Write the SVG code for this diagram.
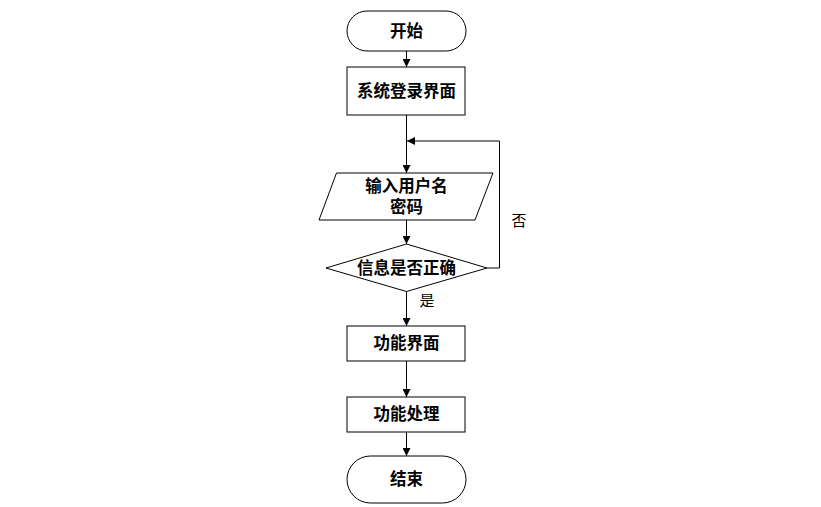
<svg xmlns="http://www.w3.org/2000/svg" width="821" height="507" viewBox="0 0 821 507">
<defs>
<marker id="ah" viewBox="0 0 10 10" refX="10" refY="5" markerWidth="8" markerHeight="8" markerUnits="userSpaceOnUse" orient="auto">
<path d="M0,0 L10,5 L0,10 z" fill="#000"/>
</marker>
<style>
.shape{fill:#fff;stroke:#000;stroke-width:1}
.t{font-family:"Liberation Sans","Noto Sans CJK SC",sans-serif;font-size:16.5px;font-weight:bold;text-anchor:middle;fill:#000}
.l{font-family:"Liberation Sans","Noto Sans CJK SC",sans-serif;font-size:15px;text-anchor:middle;fill:#000}
.c{fill:none;stroke:#000;stroke-width:1}
</style>
</defs>
<rect width="821" height="507" fill="#fff"/>
<g id="connectors">
<line class="c" x1="406.5" y1="51" x2="406.5" y2="67" marker-end="url(#ah)"/>
<line class="c" x1="406.5" y1="115" x2="406.5" y2="173" marker-end="url(#ah)"/>
<line class="c" x1="406.5" y1="220" x2="406.5" y2="244" marker-end="url(#ah)"/>
<polyline class="c" points="487,268 499.5,268 499.5,141 407,141" stroke="#555" marker-end="url(#ah)"/>
<line class="c" x1="406.5" y1="291.5" x2="406.5" y2="326" marker-end="url(#ah)"/>
<line class="c" x1="406.5" y1="361" x2="406.5" y2="397" marker-end="url(#ah)"/>
<line class="c" x1="406.5" y1="432" x2="406.5" y2="456" marker-end="url(#ah)"/>
<text class="l" x="519" y="226">否</text>
<text class="l" x="427" y="306">是</text>
</g>
<g id="start">
<rect class="shape" x="347" y="11" width="119" height="40" rx="20" ry="20"/>
<text class="t" x="406.5" y="37">开始</text>
</g>
<g id="login">
<rect class="shape" x="347" y="67" width="118" height="48"/>
<text class="t" x="406.5" y="97">系统登录界面</text>
</g>
<g id="input">
<polygon class="shape" points="336.5,173 493,173 475,220 319,220"/>
<text class="t" x="406.5" y="192">输入用户名</text>
<text class="t" x="406.5" y="213">密码</text>
</g>
<g id="check">
<polygon class="shape" points="406.5,244 487,268 406.5,291.5 326,268"/>
<text class="t" x="406.5" y="274">信息是否正确</text>
</g>
<g id="func">
<rect class="shape" x="347" y="326" width="118" height="35"/>
<text class="t" x="406.5" y="349">功能界面</text>
</g>
<g id="process">
<rect class="shape" x="347" y="397" width="118" height="35"/>
<text class="t" x="406.5" y="420">功能处理</text>
</g>
<g id="end">
<rect class="shape" x="347" y="456" width="119" height="47" rx="23.5" ry="23.5"/>
<text class="t" x="406.5" y="485">结束</text>
</g>
</svg>
